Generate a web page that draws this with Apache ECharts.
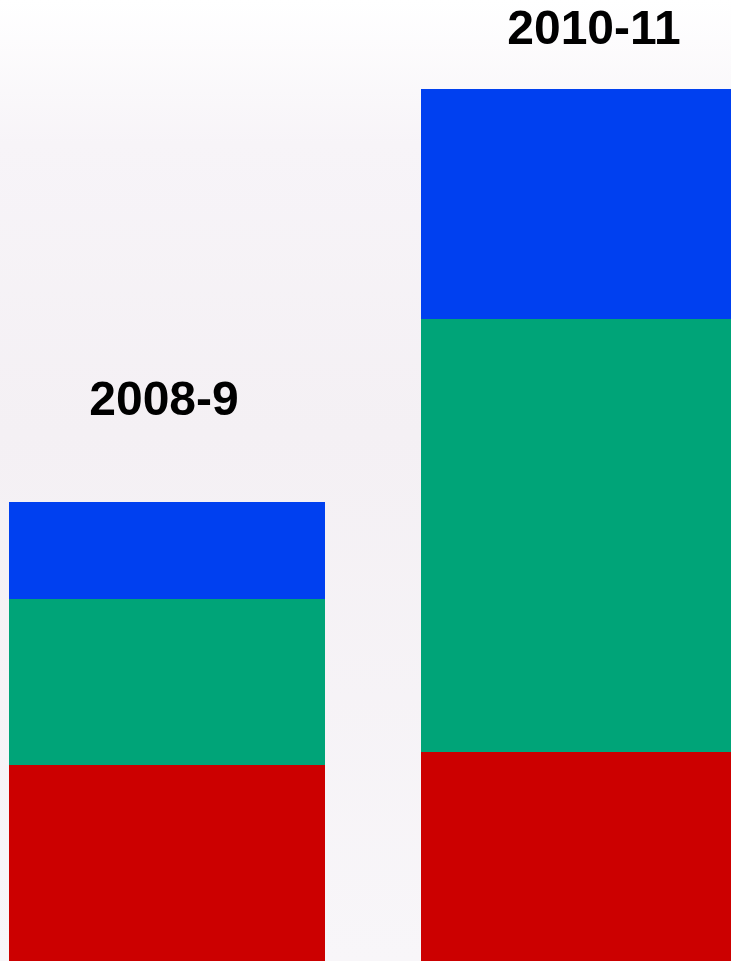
<!DOCTYPE html>
<html lang="en">
<head>
	<meta charset="UTF-8">
	<title>Stacked bars</title>
	<script src="https://cdn.jsdelivr.net/npm/echarts@6/dist/echarts.min.js"></script>
	<style>
		html, body { margin: 0; padding: 0; }
	</style>
</head>
<body>
	<div id="bar" style="width: 731px;height: 961px;"></div>
	<script>
		var years = ['2008-9', '2010-11'];
		var redValues = [196, 209];
		var greenValues = [166, 433];
		var blueValues = [97, 230];
		// label nudges per bar
		var labelOffsets = [[-3, -76], [15, -34]];

		var blueData = blueValues.map(function (v, i) {
			return {
				value: v,
				label: { offset: labelOffsets[i] }
			};
		});

		var myChart = echarts.init(document.getElementById('bar'));
		var option = {
			animation: false,
			backgroundColor: {
				type: 'linear', x: 0, y: 0, x2: 0, y2: 1,
				colorStops: [
					{ offset: 0, color: '#ffffff' },
					{ offset: 0.15, color: '#f7f4f8' },
					{ offset: 0.45, color: '#f4f0f4' },
					{ offset: 1, color: '#f8f6f9' }
				]
			},
			grid: {
				left: -39,
				right: -54,
				top: 0,
				bottom: 0,
				outerBoundsMode: 'none'
			},
			xAxis: {
				type: 'category',
				data: years,
				show: false
			},
			yAxis: {
				type: 'value',
				min: 0,
				max: 961,
				show: false
			},
			series: [{
				name: 'red',
				type: 'bar',
				stack: 'all',
				barWidth: 316,
				itemStyle: { color: '#cc0000' },
				data: redValues
			}, {
				name: 'green',
				type: 'bar',
				stack: 'all',
				barWidth: 316,
				itemStyle: { color: '#00a478' },
				data: greenValues
			}, {
				name: 'blue',
				type: 'bar',
				stack: 'all',
				barWidth: 316,
				itemStyle: { color: '#0040f0' },
				label: {
					show: true,
					position: 'top',
					distance: 0,
					color: '#000',
					fontFamily: 'Liberation Sans, Arial, sans-serif',
					fontWeight: 'bold',
					fontSize: 48,
					formatter: function (p) { return years[p.dataIndex]; }
				},
				data: blueData
			}]
		};
		myChart.setOption(option);
	</script>
</body>
</html>
